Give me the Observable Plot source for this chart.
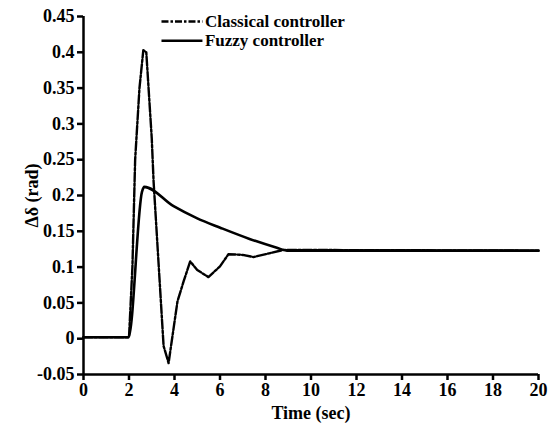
<!DOCTYPE html>
<html>
<head>
<meta charset="utf-8">
<script src="https://cdn.jsdelivr.net/npm/d3@7"></script>
<script src="https://cdn.jsdelivr.net/npm/@observablehq/plot@0.6"></script>
<style>
  html, body { margin: 0; padding: 0; background: #fff; }
  #chart svg { display: block; }
  #chart svg, #chart svg text { font-family: "Liberation Serif", "Times New Roman", Times, "DejaVu Serif", serif !important; }
</style>
</head>
<body>
<div id="chart"></div>
<script>
// Classical controller response
const timeClassical = [0, 2.0, 2.15, 2.27, 2.46, 2.63, 2.76, 3.0, 3.08, 3.52, 3.74, 4.13, 4.4, 4.69, 5.0, 5.49, 6.0, 6.37, 7.0, 7.47, 8.79, 20];
const valClassical  = [0.002, 0.002, 0.10, 0.25, 0.35, 0.403, 0.40, 0.28, 0.22, -0.01, -0.034, 0.052, 0.08, 0.108, 0.096, 0.086, 0.101, 0.118, 0.117, 0.114, 0.124, 0.123];

// Fuzzy controller response
const timeFuzzy = [0, 1.98, 2.57, 2.67, 3.96, 5.0, 6.01, 7.33, 8.5, 8.94, 20];
const valFuzzy  = [0.002, 0.002, 0.205, 0.212, 0.185, 0.168, 0.155, 0.139, 0.127, 0.123, 0.123];

const seriesNames = ["Classical controller", "Fuzzy controller"];
const xTicks = [0, 2, 4, 6, 8, 10, 12, 14, 16, 18, 20];
const yTicks = [-0.05, 0, 0.05, 0.1, 0.15, 0.2, 0.25, 0.3, 0.35, 0.4, 0.45];

const classical = timeClassical.map((t, i) => ({t, v: valClassical[i]}));
const fuzzy = timeFuzzy.map((t, i) => ({t, v: valFuzzy[i]}));

// legend rows placed in data space near top
const legend = [
  {name: seriesNames[0], x1: 3.45, x2: 5.25, y: 0.443, dash: true},
  {name: seriesNames[1], x1: 3.45, x2: 5.25, y: 0.416, dash: false}
];

const font = "'Liberation Serif', 'Times New Roman', Times, 'DejaVu Serif', serif";

const plot = Plot.plot({
  width: 552,
  height: 425,
  marginLeft: 83,
  marginRight: 14,
  marginTop: 16,
  marginBottom: 51,
  style: {fontFamily: font, fontSize: "18px", fontWeight: "bold", color: "#000", background: "#fff"},
  x: {domain: [0, 20]},
  y: {domain: [-0.05, 0.45]},
  marks: [
    Plot.axisX({ticks: xTicks, tickSize: 6, tickPadding: 3, tickFormat: d => String(d),
      label: "Time (sec)", labelAnchor: "center", labelArrow: "none", labelOffset: 44,
      strokeWidth: 2.5, fontSize: 18}),
    Plot.axisY({ticks: yTicks, tickSize: 6, tickPadding: 3,
      tickFormat: d => d === 0 ? "0" : String(+d.toFixed(2)),
      label: "Δδ (rad)", labelAnchor: "center", labelArrow: "none", labelOffset: 58,
      strokeWidth: 2.5, fontSize: 18}),
    Plot.ruleX([0], {stroke: "#000", strokeWidth: 2.5}),
    Plot.ruleY([-0.05], {stroke: "#000", strokeWidth: 2.5}),
    Plot.line(fuzzy, {x: "t", y: "v", stroke: "#000", strokeWidth: 2.6, curve: "monotone-x"}),
    Plot.line(classical, {x: "t", y: "v", stroke: "#000", strokeWidth: 2.4, strokeDasharray: "9,2,2.5,2"}),
    Plot.ruleY(legend.filter(d => d.dash), {y: "y", x1: "x1", x2: "x2", stroke: "#000", strokeWidth: 2.5, strokeDasharray: "7,2,2.5,2"}),
    Plot.ruleY(legend.filter(d => !d.dash), {y: "y", x1: "x1", x2: "x2", stroke: "#000", strokeWidth: 2.5}),
    Plot.text(legend, {x: "x2", y: "y", text: "name", textAnchor: "start", dx: 2, fontSize: 17, fontWeight: "bold", fill: "#000"})
  ]
});
document.getElementById("chart").append(plot);
document.querySelectorAll("#chart svg text").forEach(t => t.setAttribute("font-family", "Liberation Serif"));
</script>
</body>
</html>
